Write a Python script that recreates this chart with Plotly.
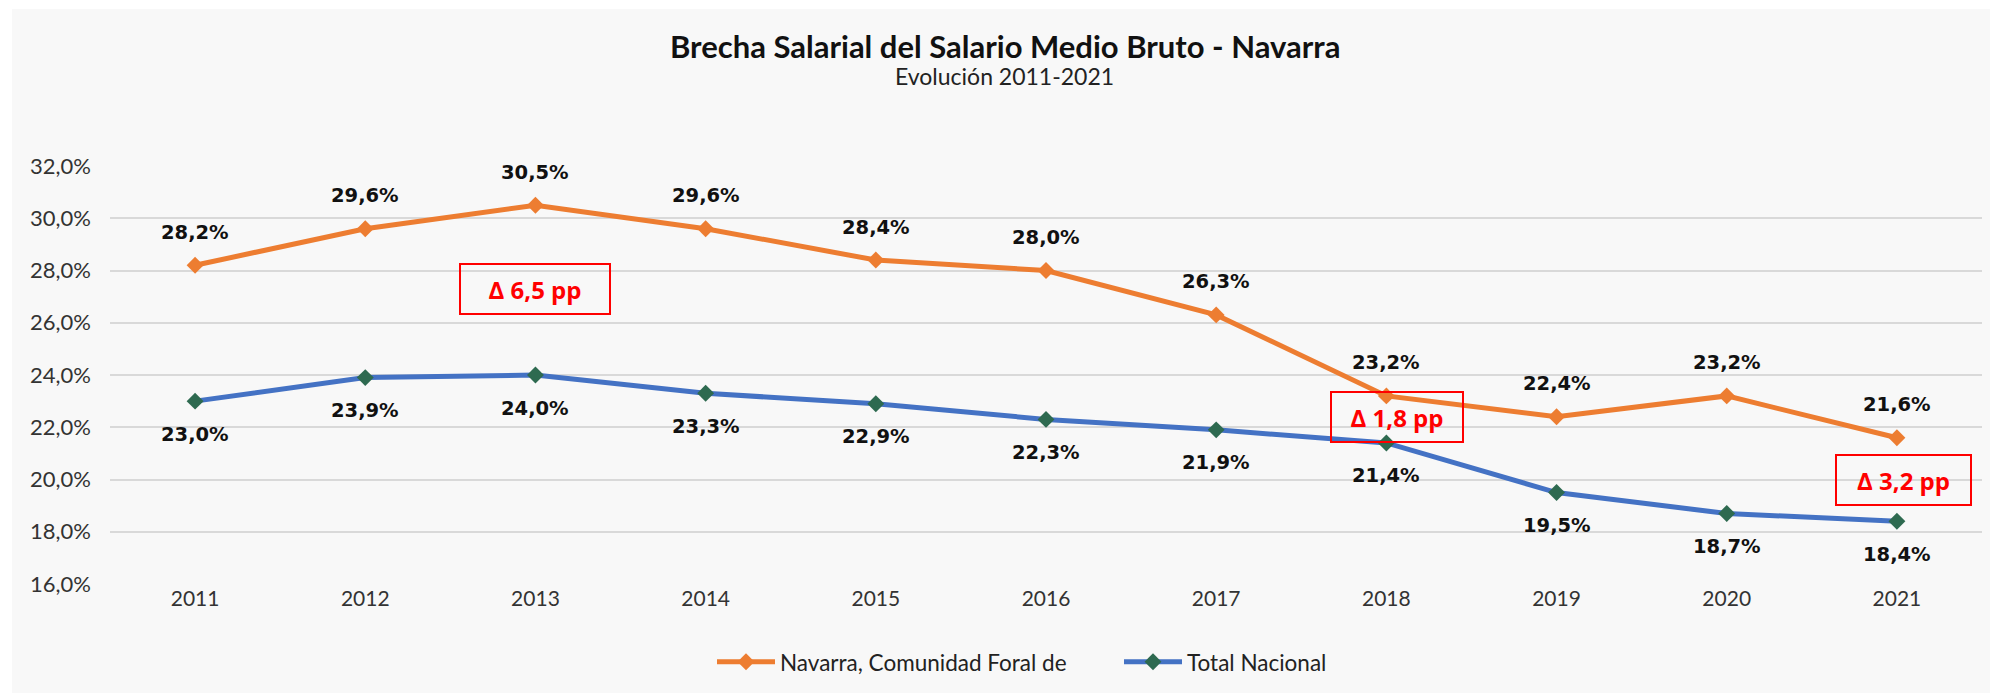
import plotly.graph_objects as go

# Gender pay gap in average gross salary, 2011-2021
years = ["2011", "2012", "2013", "2014", "2015", "2016", "2017", "2018", "2019", "2020", "2021"]
navarra = [28.2, 29.6, 30.5, 29.6, 28.4, 28.0, 26.3, 23.2, 22.4, 23.2, 21.6]
nacional = [23.0, 23.9, 24.0, 23.3, 22.9, 22.3, 21.9, 21.4, 19.5, 18.7, 18.4]

name_navarra = "Navarra, Comunidad Foral de"
name_nacional = "Total Nacional"

y_ticks = [16, 18, 20, 22, 24, 26, 28, 30, 32]

ORANGE = "#ED7D31"
BLUE = "#4472C4"
GREEN = "#2E6A50"
RED = "#FF0000"

AXIS_FONT = "Lato, Open Sans, sans-serif"
LABEL_FONT = "DejaVu Sans, Verdana, sans-serif"
BOX_FONT = "Open Sans, Calibri, sans-serif"


def pct(v):
    return f"{v:.1f}".replace(".", ",") + "%"


fig = go.Figure()
fig.add_trace(go.Scatter(
    x=years, y=navarra, name=name_navarra, mode="lines+markers",
    line=dict(color=ORANGE, width=5),
    marker=dict(symbol="diamond", size=13, color=ORANGE),
))
fig.add_trace(go.Scatter(
    x=years, y=nacional, name=name_nacional, mode="lines+markers",
    line=dict(color=BLUE, width=5),
    marker=dict(symbol="diamond", size=13, color=GREEN),
))

annotations = []
# value labels: Navarra above, national total below (x given as category index)
for i, v in enumerate(navarra):
    annotations.append(dict(x=i, y=v, text=pct(v), showarrow=False, yshift=33,
                            font=dict(family=LABEL_FONT, size=19.5, color="#111111", weight="bold")))
for i, v in enumerate(nacional):
    annotations.append(dict(x=i, y=v, text=pct(v), showarrow=False, yshift=-33,
                            font=dict(family=LABEL_FONT, size=19.5, color="#111111", weight="bold")))

# gap boxes (percentage points between both series)
gap_boxes = [("2013", 27.3, 0, 146), ("2018", 22.4, 11, 128), ("2021", 20.0, 7, 131)]
for yr, ypos, dx, w in gap_boxes:
    i = years.index(yr)
    gap = navarra[i] - nacional[i]
    txt = "<b>Δ " + f"{gap:.1f}".replace(".", ",") + " pp</b>"
    annotations.append(dict(x=i, y=ypos, xshift=dx, text=txt, showarrow=False,
                            width=w, height=46, borderpad=1, borderwidth=2,
                            bordercolor=RED, bgcolor="rgba(0,0,0,0)",
                            font=dict(family=BOX_FONT, size=24, color=RED)))

# title and subtitle
annotations.append(dict(xref="paper", yref="paper", x=0.478, y=1.287, yanchor="middle",
                        text="<b>Brecha Salarial del Salario Medio Bruto - Navarra</b>",
                        showarrow=False, font=dict(family=AXIS_FONT, size=31, color="#111111")))
annotations.append(dict(xref="paper", yref="paper", x=0.478, y=1.215, yanchor="middle",
                        text="Evolución 2011-2021",
                        showarrow=False, font=dict(family=AXIS_FONT, size=23, color="#222222")))

fig.update_layout(
    width=1990, height=693,
    margin=dict(l=110, r=8, t=166, b=109),
    paper_bgcolor="#F8F8F8", plot_bgcolor="#F8F8F8",
    showlegend=True,
    legend=dict(orientation="h", x=(712 - 110) / 1872, xanchor="left", y=-0.187, yanchor="middle",
                font=dict(family=AXIS_FONT, size=22.5, color="#222222"),
                bgcolor="rgba(0,0,0,0)", itemwidth=58, tracegroupgap=0,
                entrywidth=334, entrywidthmode="pixels"),
    annotations=annotations,
    shapes=[
        dict(type="rect", xref="paper", yref="paper", x0=-110 / 1872, x1=-98 / 1872,
             y0=-109 / 418, y1=(418 + 166) / 418, fillcolor="#FFFFFF", line_width=0, layer="below"),
        dict(type="rect", xref="paper", yref="paper", x0=-110 / 1872, x1=1.0043,
             y0=(418 + 157) / 418, y1=(418 + 166) / 418, fillcolor="#FFFFFF", line_width=0, layer="below"),
    ],
    xaxis=dict(
        type="category", range=[-0.5, len(years) - 0.5],
        showgrid=False, showline=False, zeroline=False, ticks="",
        tickfont=dict(family=AXIS_FONT, size=21, color="#333333"),
    ),
    yaxis=dict(
        range=[16, 32], tickvals=y_ticks, ticktext=[pct(t) for t in y_ticks],
        showgrid=True, gridcolor="#D9D9D9", gridwidth=2, zeroline=False, showline=False,
        ticks="", ticklabelstandoff=18,
        tickfont=dict(family=AXIS_FONT, size=22, color="#333333"),
    ),
)

fig.write_html("out.html")
